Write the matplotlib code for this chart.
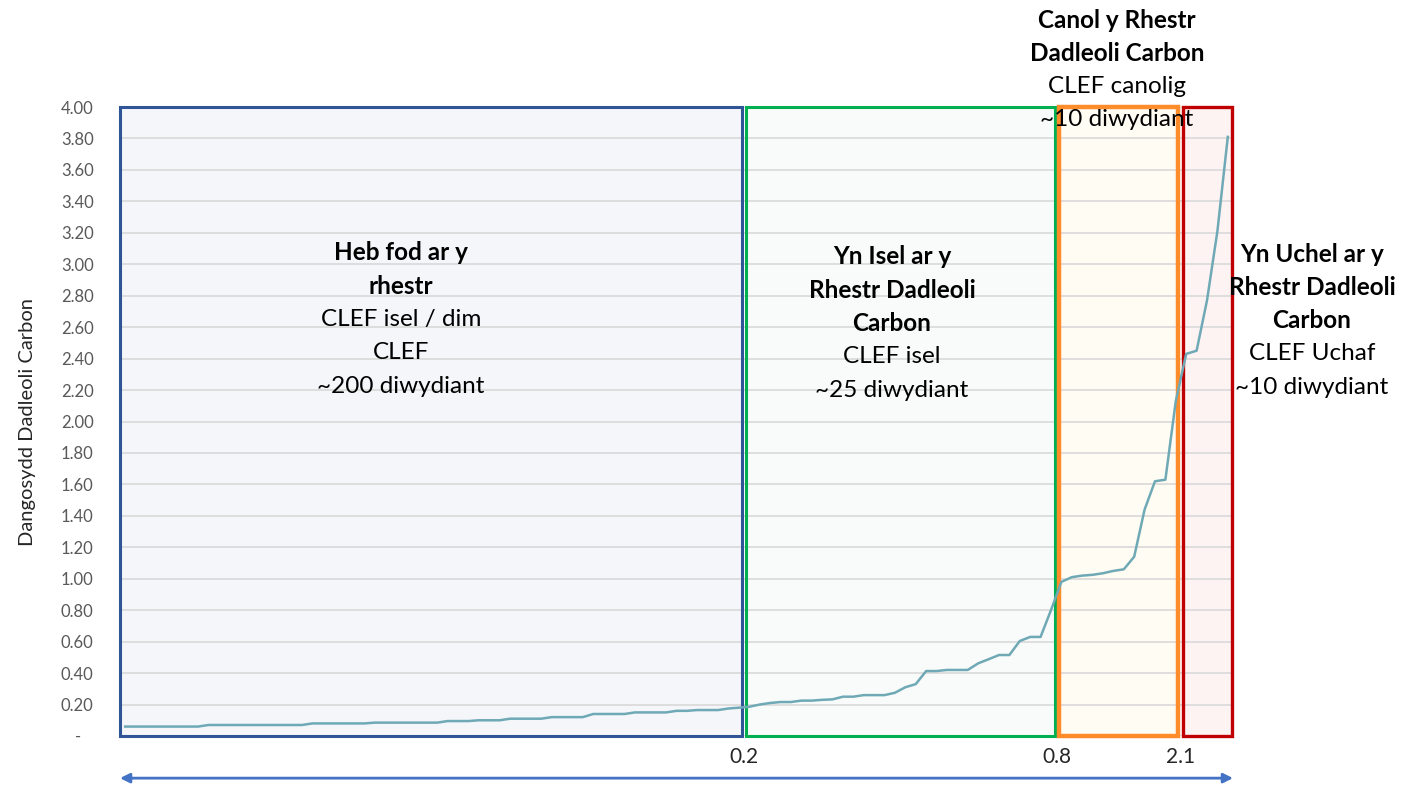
import numpy as np
import matplotlib.pyplot as plt
from matplotlib.patches import Rectangle

# sorted indicator values, one per sector
values = [0.06] * 8 + [0.07] * 10 + [0.08] * 6 + [0.085] * 7 + [0.095] * 3 + \
    [0.10] * 3 + [0.11] * 4 + [0.12] * 4 + [0.14] * 4 + [0.15] * 4 + [0.16] * 2 + \
    [0.165] * 3 + [0.175, 0.18, 0.186, 0.20, 0.21, 0.216, 0.216, 0.225, 0.225,
                   0.23, 0.233, 0.25, 0.25, 0.26, 0.26, 0.26, 0.275, 0.31, 0.33,
                   0.413, 0.413, 0.42, 0.42, 0.42, 0.462, 0.488, 0.515, 0.515,
                   0.604, 0.63, 0.63, 0.80, 0.98, 1.01, 1.02, 1.025, 1.035, 1.05,
                   1.06, 1.14, 1.44, 1.62, 1.63, 2.13, 2.43, 2.45, 2.77, 3.21, 3.81]

yticks = np.arange(0, 4.01, 0.2)
ytick_labels = ['-   '] + ['%.2f' % v for v in yticks[1:]]

# zones: (left index, right index, edge colour, fill colour, line width)
zones = [(-0.5, 59.3, '#2F5597', '#F4F6FA', 2.2),
         (59.7, 89.4, '#00B050', '#F8FBF9', 2.2),
         (89.8, 101.2, '#FF8C2A', '#FFFCF4', 3.2),
         (101.7, 106.4, '#C00000', '#FEF3F3', 2.4)]
thresholds = ['0.2', '0.8', '2.1']
threshold_pos = [59.5, 89.6, 101.45]

zone_texts = [
    [('Heb fod ar y', True), ('rhestr', True), ('CLEF isel / dim', False),
     ('CLEF', False), ('~200 diwydiant', False)],
    [('Yn Isel ar y', True), ('Rhestr Dadleoli', True), ('Carbon', True),
     ('CLEF isel', False), ('~25 diwydiant', False)],
    [('Canol y Rhestr', True), ('Dadleoli Carbon', True), ('CLEF canolig', False),
     ('~10 diwydiant', False)],
    [('Yn Uchel ar y', True), ('Rhestr Dadleoli', True), ('Carbon', True),
     ('CLEF Uchaf', False), ('~10 diwydiant', False)],
]
# centre x and first line y in pixels for each text block
text_anchor = [(401, 253), (892, 257), (1117, 20), (1312, 254)]

W, H = 1419, 785
plt.rcParams['font.family'] = ['Lato', 'DejaVu Sans']
fig = plt.figure(figsize=(W / 100, H / 100), dpi=100)
ax = fig.add_axes([120 / W, (H - 736) / H, 1113 / W, 629 / H])

x = np.arange(len(values))
ax.set_xlim(-0.5, len(values) - 0.5)
ax.set_ylim(0, 4)

for left, right, ec, fc, lw in zones:
    ax.add_patch(Rectangle((left, 0), right - left, 4, facecolor=fc,
                           edgecolor='none', zorder=0.2))
    ax.add_patch(Rectangle((left, 0), right - left, 4, facecolor='none',
                           edgecolor=ec, lw=lw, zorder=2, clip_on=False))

ax.set_yticks(yticks)
ax.set_yticklabels(ytick_labels, color='#595959', fontsize=12)
ax.tick_params(axis='y', length=0, pad=19)
ax.set_xticks([])
ax.yaxis.grid(True, color='#D9D9D9', lw=1.2, zorder=0.5)
ax.set_axisbelow(True)
for s in ax.spines.values():
    s.set_visible(False)

ax.plot(x, values, color='#6FA9B6', lw=1.8, zorder=3)

ax.set_ylabel('Dangosydd Dadleoli Carbon', fontsize=14.5, color='#262626', labelpad=18)

for lab, pos in zip(thresholds, threshold_pos):
    ax.text(pos, -0.033, lab, transform=ax.get_xaxis_transform(), ha='center',
            va='center', fontsize=15, color='#262626')

ax.annotate('', xy=(1.0, -0.067), xytext=(0.0, -0.067), xycoords='axes fraction',
            arrowprops=dict(arrowstyle='<|-|>', color='#4472C4', lw=2,
                            mutation_scale=14, shrinkA=0, shrinkB=0),
            annotation_clip=False)

for lines, (cx, cy) in zip(zone_texts, text_anchor):
    for k, (txt, bold) in enumerate(lines):
        fig.text(cx / W, 1 - (cy + k * 33.3) / H, txt, ha='center', va='center',
                 fontsize=17.5, fontweight='bold' if bold else 'normal',
                 color='black', zorder=5)

fig.savefig('out.png', dpi=100)
